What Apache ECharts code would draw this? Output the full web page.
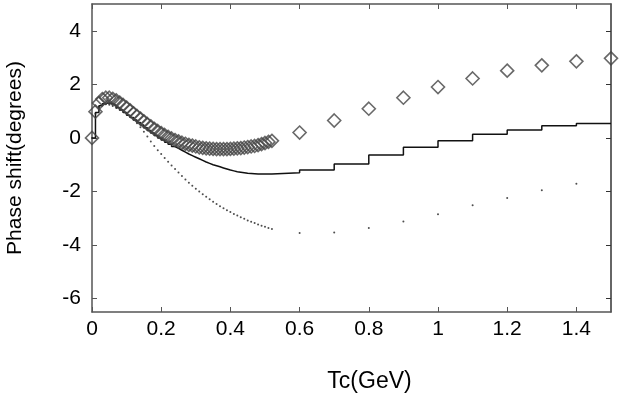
<!DOCTYPE html>
<html>
<head>
<meta charset="utf-8">
<script src="https://cdn.jsdelivr.net/npm/echarts@6/dist/echarts.min.js"></script>
<style>
html,body{margin:0;padding:0;background:#fff;}
#chart{width:623px;height:398px;}
</style>
</head>
<body>
<div id="chart"></div>
<script>
// ---- data ----
var xDense = [0,0.01,0.02,0.03,0.04,0.05,0.06,0.07,0.08,0.09,0.10,0.11,0.12,0.13,0.14,0.15,0.16,0.17,0.18,0.19,0.20,0.21,0.22,0.23,0.24,0.25,0.26,0.27,0.28,0.29,0.30,0.31,0.32,0.33,0.34,0.35,0.36,0.37,0.38,0.39,0.40,0.41,0.42,0.43,0.44,0.45,0.46,0.47,0.48,0.49,0.50,0.51,0.52];
var xSparse = [0.6,0.7,0.8,0.9,1.0,1.1,1.2,1.3,1.4,1.5];
var xSparseDots = [0.6,0.7,0.8,0.9,1.0,1.1,1.2,1.3,1.4];

var diamondDense = [0,0.98,1.30,1.45,1.50,1.50,1.46,1.40,1.32,1.23,1.13,1.03,0.92,0.82,0.72,0.62,0.52,0.43,0.34,0.26,0.18,0.11,0.04,-0.02,-0.08,-0.13,-0.18,-0.22,-0.26,-0.29,-0.32,-0.35,-0.37,-0.39,-0.40,-0.41,-0.42,-0.42,-0.42,-0.42,-0.41,-0.40,-0.39,-0.38,-0.36,-0.34,-0.32,-0.30,-0.27,-0.23,-0.19,-0.15,-0.11];
var diamondSparse = [0.20,0.65,1.09,1.50,1.90,2.22,2.51,2.71,2.86,2.97];

var solidDense = [0,0.95,1.20,1.28,1.30,1.27,1.21,1.13,1.04,0.95,0.85,0.76,0.67,0.58,0.48,0.38,0.28,0.18,0.09,0.00,-0.08,-0.16,-0.24,-0.32,-0.39,-0.46,-0.53,-0.60,-0.66,-0.72,-0.78,-0.84,-0.90,-0.95,-1.00,-1.04,-1.08,-1.12,-1.16,-1.20,-1.23,-1.26,-1.28,-1.30,-1.32,-1.33,-1.34,-1.35,-1.35,-1.35,-1.35,-1.35,-1.30];
var solidSparse = [-1.20,-0.97,-0.64,-0.35,-0.11,0.14,0.30,0.45,0.54,0.54];

var dotDense = [0,0.90,1.15,1.24,1.26,1.24,1.19,1.12,1.05,0.98,0.90,0.80,0.68,0.55,0.40,0.23,0.05,-0.13,-0.30,-0.46,-0.60,-0.75,-0.89,-1.03,-1.16,-1.29,-1.42,-1.55,-1.67,-1.79,-1.90,-2.00,-2.10,-2.20,-2.29,-2.38,-2.47,-2.55,-2.63,-2.70,-2.77,-2.84,-2.90,-2.96,-3.02,-3.08,-3.13,-3.18,-3.23,-3.28,-3.32,-3.36,-3.40];
var dotSparse = [-3.55,-3.53,-3.36,-3.12,-2.85,-2.51,-2.24,-1.95,-1.71];

var xTickValues = [0,0.2,0.4,0.6,0.8,1.0,1.2,1.4];
var xTickLabels = ['0','0.2','0.4','0.6','0.8','1','1.2','1.4'];
var yTickValues = [-6,-4,-2,0,2,4];
var yTickLabels = ['-6','-4','-2','0','2','4'];

var xTitle = 'Tc(GeV)';
var yTitle = 'Phase shift(degrees)';

// ---- build ----
function zip(xs, ys){ var out=[]; for(var i=0;i<xs.length;i++){ out.push([xs[i], ys[i]]); } return out; }
function labelFor(vals, labels){ return function(v){ for(var i=0;i<vals.length;i++){ if(Math.abs(vals[i]-v)<1e-9) return labels[i]; } return ''; }; }

var FONT = '"Liberation Sans", Arial, sans-serif';
var axisColor = '#555';

var chart = echarts.init(document.getElementById('chart'), null, {renderer:'canvas'});
chart.setOption({
  animation:false,
  backgroundColor:'#fff',
  grid:{left:92, right:12, top:4, bottom:86, containLabel:false, outerBoundsMode:'none'},
  xAxis:[{
    type:'value', min:0, max:1.5, position:'bottom',
    axisLine:{show:true, onZero:false, lineStyle:{color:axisColor, width:1.5}},
    axisTick:{show:true, inside:true, length:5, customValues:xTickValues, lineStyle:{color:axisColor}},
    axisLabel:{show:true, customValues:xTickValues, formatter:labelFor(xTickValues,xTickLabels), fontSize:21, color:'#000', fontFamily:FONT, margin:7},
    splitLine:{show:false},
    name:xTitle, nameLocation:'middle', nameGap:58,
    nameTextStyle:{fontSize:23, color:'#000', fontFamily:FONT, padding:[0,0,0,36]}
  },{
    type:'value', min:0, max:1.5, position:'top',
    axisLine:{show:true, onZero:false, lineStyle:{color:axisColor, width:1.5}},
    axisTick:{show:true, inside:true, length:5, customValues:xTickValues, lineStyle:{color:axisColor}},
    axisLabel:{show:false}, splitLine:{show:false}
  }],
  yAxis:[{
    type:'value', min:-6.5, max:5, position:'left',
    axisLine:{show:true, onZero:false, lineStyle:{color:axisColor, width:1.5}},
    axisTick:{show:true, inside:true, length:5, customValues:yTickValues, lineStyle:{color:axisColor}},
    axisLabel:{show:true, customValues:yTickValues, formatter:labelFor(yTickValues,yTickLabels), fontSize:21, color:'#000', fontFamily:FONT, margin:11},
    splitLine:{show:false},
    name:yTitle, nameLocation:'middle', nameGap:66, nameRotate:90,
    nameTextStyle:{fontSize:21, color:'#000', fontFamily:FONT}
  },{
    type:'value', min:-6.5, max:5, position:'right',
    axisLine:{show:true, onZero:false, lineStyle:{color:'#333', width:1.5}},
    axisTick:{show:true, inside:true, length:5, customValues:yTickValues, lineStyle:{color:'#333'}},
    axisLabel:{show:false}, splitLine:{show:false}
  }],
  series:[{
    name:'solid', type:'line', step:'end', symbol:'none',
    data: zip(xDense, solidDense).concat(zip(xSparse, solidSparse)),
    lineStyle:{color:'#111', width:1.5}, z:2
  },{
    name:'dots', type:'scatter', symbol:'circle', symbolSize:2,
    data: zip(xDense, dotDense).concat(zip(xSparseDots, dotSparse)),
    itemStyle:{color:'#222'}, z:3
  },{
    name:'diamonds', type:'scatter', symbol:'diamond', symbolSize:13,
    data: zip(xDense, diamondDense).concat(zip(xSparse, diamondSparse)),
    itemStyle:{color:'rgba(255,255,255,0)', borderColor:'#444', borderWidth:1.6}, z:4
  }]
});
</script>
</body>
</html>
